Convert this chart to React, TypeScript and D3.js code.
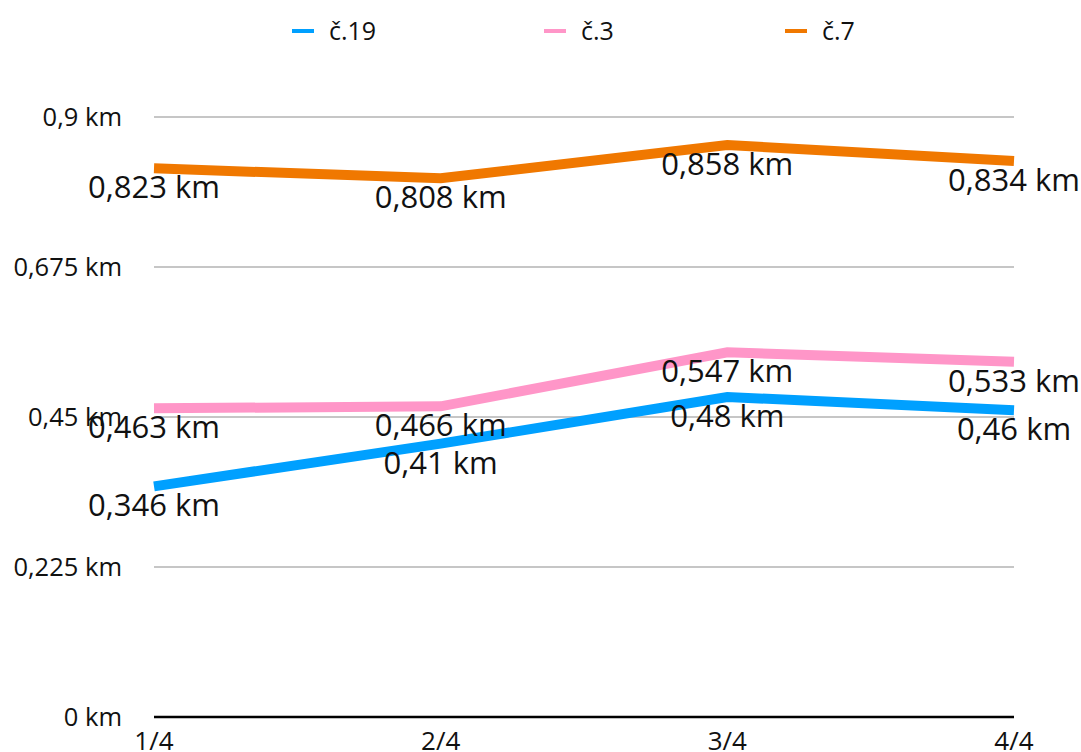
import React from "react";
import * as d3 from "d3";

const categories = ["1/4", "2/4", "3/4", "4/4"];
const seriesNames = ["č.19", "č.3", "č.7"];
const blueValues = [0.346, 0.41, 0.48, 0.46];
const pinkValues = [0.463, 0.466, 0.547, 0.533];
const orangeValues = [0.823, 0.808, 0.858, 0.834];
const yTicks = [0, 0.225, 0.45, 0.675, 0.9];
const colors = ["#00A0FF", "#FF96C8", "#F07800"];

const fmt = (v: number) => String(v).replace(".", ",") + " km";

export default function App() {
  const W = 1081, H = 752;
  const x = d3.scalePoint<string>().domain(categories).range([154, 1014]);
  const y = d3.scaleLinear().domain([0, 0.9]).range([717, 117]);
  const line = d3.line<number>().x((_, i) => x(categories[i])!).y((d) => y(d));
  const series = [blueValues, pinkValues, orangeValues];
  const legendX = [292, 544, 785];
  const font = "'Open Sans', 'Noto Sans', sans-serif";
  return (
    <svg width={W} height={H} style={{ position: "absolute", left: 0, top: 0, background: "#fff" }} fontFamily={font}>
      {yTicks.map((t) => (
        <g key={t}>
          {t > 0 && <line x1={154} x2={1014} y1={y(t)} y2={y(t)} stroke="#b3b3b3" strokeWidth={1.3} />}
          <text x={122} y={y(t)} dy="0.35em" textAnchor="end" fontSize={25.5} fill="#111">{fmt(t)}</text>
        </g>
      ))}
      <line x1={154} x2={1014} y1={y(0)} y2={y(0)} stroke="#000" strokeWidth={2.5} />
      {categories.map((c) => (
        <text key={c} x={x(c)!} y={750} textAnchor="middle" fontSize={26} fill="#111">{c}</text>
      ))}
      {series.map((s, i) => (
        <path key={i} d={line(s)!} fill="none" stroke={colors[i]} strokeWidth={10} strokeLinejoin="miter" />
      ))}
      {series.map((s, i) =>
        s.map((v, j) => (
          <text key={`${i}-${j}`} x={x(categories[j])!} y={y(v) + 30} textAnchor="middle" fontSize={31} fill="#111">{fmt(v)}</text>
        ))
      )}
      {seriesNames.map((n, i) => (
        <g key={n}>
          <rect x={legendX[i]} y={29} width={22} height={4} fill={colors[i]} />
          <text x={legendX[i] + 37} y={31} dy="0.35em" fontSize={25} fill="#111">{n}</text>
        </g>
      ))}
    </svg>
  );
}
